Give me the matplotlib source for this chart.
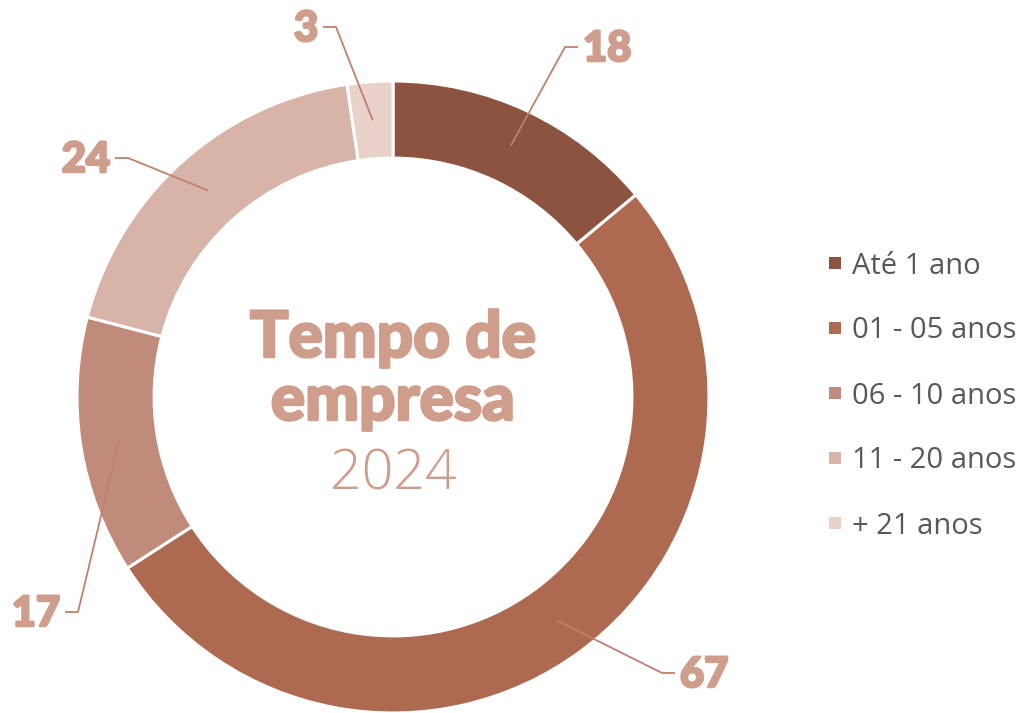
import numpy as np
import matplotlib
matplotlib.use("Agg")
import matplotlib.pyplot as plt
import matplotlib.patheffects as pe
from matplotlib.patches import Rectangle

categories = ["Até 1 ano", "01 - 05 anos", "06 - 10 anos", "11 - 20 anos", "+ 21 anos"]
values = [18, 67, 17, 24, 3]
colors = ["#8B5340", "#AD6A50", "#C08B7A", "#D8B4A8", "#E9D2CA"]

# where each value label sits (pixels, y from bottom) and which side the text goes
label_pos = [(583, 666), (680, 40), (60, 101), (110, 555), (318, 686)]
label_side = ["left", "left", "right", "right", "right"]

W, H = 1023, 713
cx, cy, R = 393, 316, 316
ring = 0.244

fig = plt.figure(figsize=(W / 100, H / 100), dpi=100)
ax = fig.add_axes([0, 0, 1, 1])

wedges, _ = ax.pie(values, colors=colors, startangle=90, counterclock=False,
                   center=(cx, cy), radius=R,
                   wedgeprops=dict(width=R * ring, edgecolor="white", linewidth=2.2))
# pie() sets its own limits, so put the pixel frame back afterwards
ax.set_xlim(0, W)
ax.set_ylim(0, H)
ax.set_aspect("equal")
ax.axis("off")

lab_col = "#CF9D8B"
line_col = "#C0806C"
# thicken the bold face a little
heavy = [pe.withStroke(linewidth=1.8, foreground=lab_col)]

rmid = R * (1 - ring / 2)
for w, v, (tx, ty), side in zip(wedges, values, label_pos, label_side):
    ang = np.deg2rad((w.theta1 + w.theta2) / 2)
    px, py = cx + rmid * np.cos(ang), cy + rmid * np.sin(ang)
    if side == "left":
        ex, hx = tx - 18, tx - 5
    else:
        ex, hx = tx + 18, tx + 5
    ax.plot([px, ex, hx], [py, ty, ty], color=line_col, lw=1.3, solid_capstyle="butt")
    ax.text(tx, ty - 2, str(v), ha=side, va="center", fontsize=30, color=lab_col,
            family="Lato", weight="black", path_effects=heavy)

# centre title
ax.text(cx, 356, "Tempo de", ha="center", va="baseline", fontsize=46, color=lab_col,
        family="Lato", weight="black", path_effects=heavy)
ax.text(cx, 293, "empresa", ha="center", va="baseline", fontsize=46, color=lab_col,
        family="Lato", weight="black", path_effects=heavy)
ax.text(cx, 223, "2024", ha="center", va="baseline", fontsize=40, color=lab_col,
        family="Open Sans", weight="light")

# legend
for i, (c, name) in enumerate(zip(colors, categories)):
    y = 450 - i * 65
    ax.add_patch(Rectangle((829, y - 6), 12, 12, color=c, lw=0))
    ax.text(852, y - 3, name, ha="left", va="center", fontsize=21, color="#595959",
            family="Open Sans")

fig.savefig("out.png", dpi=100)
